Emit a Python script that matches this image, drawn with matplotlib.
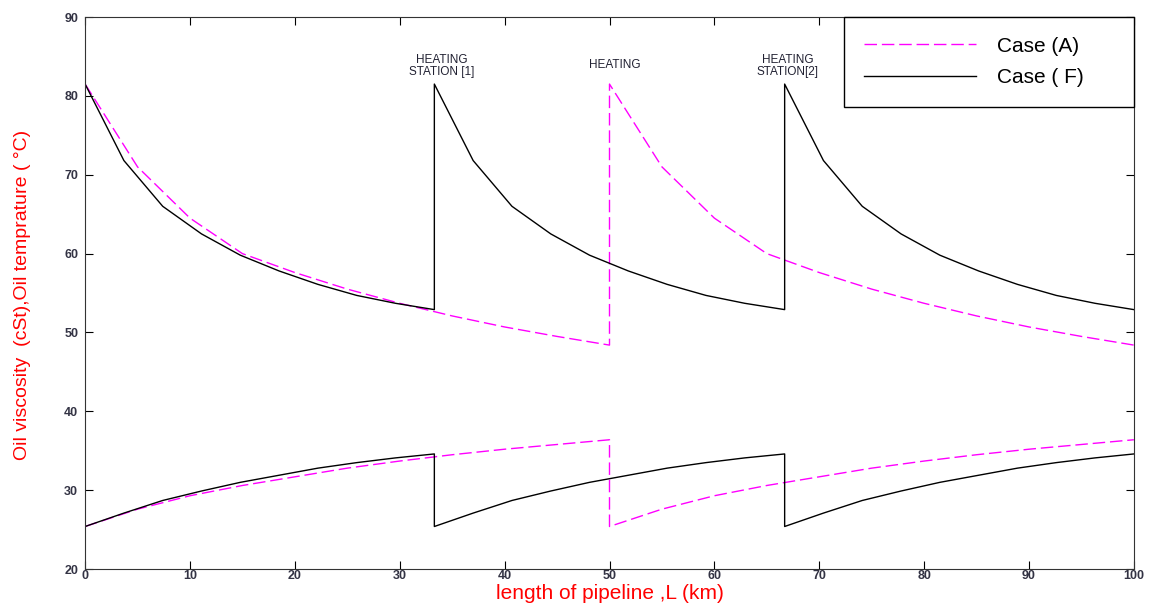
import matplotlib.pyplot as plt

# distances along the pipeline (km)
dist_A = [0, 5, 10, 15, 20, 25, 30, 35, 40, 45, 50,
          50, 55, 60, 65, 70, 75, 80, 85, 90, 95, 100]
dist_F = [0, 3.7, 7.4, 11.1, 14.8, 18.5, 22.2, 25.9, 29.6, 33.3,
          33.3, 37.0, 40.7, 44.4, 48.1, 51.8, 55.5, 59.2, 62.9, 66.7,
          66.7, 70.4, 74.1, 77.8, 81.5, 85.2, 88.9, 92.6, 96.3, 100]

# oil temperature (C)
temp_A = [81.5, 71.0, 64.5, 60.0, 57.6, 55.5, 53.7, 52.1, 50.7, 49.5, 48.4,
          81.5, 71.0, 64.5, 60.0, 57.6, 55.5, 53.7, 52.1, 50.7, 49.5, 48.4]
temp_F = [81.5, 71.8, 66.0, 62.5, 59.8, 57.8, 56.1, 54.7, 53.7, 52.9,
          81.5, 71.8, 66.0, 62.5, 59.8, 57.8, 56.1, 54.7, 53.7, 52.9,
          81.5, 71.8, 66.0, 62.5, 59.8, 57.8, 56.1, 54.7, 53.7, 52.9]

# oil viscosity (cSt)
visc_A = [25.4, 27.6, 29.3, 30.6, 31.7, 32.8, 33.7, 34.5, 35.2, 35.8, 36.4,
          25.4, 27.6, 29.3, 30.6, 31.7, 32.8, 33.7, 34.5, 35.2, 35.8, 36.4]
visc_F = [25.4, 27.1, 28.7, 29.9, 31.0, 31.9, 32.8, 33.5, 34.1, 34.6,
          25.4, 27.1, 28.7, 29.9, 31.0, 31.9, 32.8, 33.5, 34.1, 34.6,
          25.4, 27.1, 28.7, 29.9, 31.0, 31.9, 32.8, 33.5, 34.1, 34.6]

stations = ['HEATING\nSTATION [1]', 'HEATING', 'HEATING\nSTATION[2]']
station_x = [34.0, 50.5, 67.0]
station_y = [83.8, 83.9, 83.8]

plt.rcParams['font.family'] = ['Liberation Sans', 'DejaVu Sans']

fig = plt.figure(figsize=(11.5, 6.08), dpi=100)
ax = fig.add_axes([0.074, 0.064, 0.912, 0.908])

magenta = '#ff00ff'
ax.plot(dist_A, temp_A, color=magenta, lw=1.0, dashes=(9, 3.5), label='Case (A)')
ax.plot(dist_F, temp_F, color='black', lw=1.0, label='Case ( F)')
ax.plot(dist_A, visc_A, color=magenta, lw=1.0, dashes=(9, 3.5))
ax.plot(dist_F, visc_F, color='black', lw=1.0)

for s, x, y in zip(stations, station_x, station_y):
    ax.text(x, y, s, ha='center', va='center', fontsize=8.5, color='#222233',
            linespacing=1.0)

ax.set_xlim(0, 100)
ax.set_ylim(20, 90)
ax.set_xticks(range(0, 101, 10))
ax.set_yticks(range(20, 91, 10))
ax.tick_params(direction='in', length=6, top=True, right=True,
               labelsize=9, labelcolor='#333344')
ax.tick_params(axis='x', pad=1)
ax.tick_params(axis='y', pad=5)
for lab in ax.get_xticklabels() + ax.get_yticklabels():
    lab.set_fontweight('bold')
for sp in ax.spines.values():
    sp.set_color('#333333')

ax.set_xlabel('length of pipeline ,L (km)', color='red', fontsize=15)
ax.xaxis.set_label_coords(0.5, -0.0275)
ax.set_ylabel('Oil viscosity  (cSt),Oil temprature ( \u00b0C)', color='red',
              fontsize=14)
ax.yaxis.set_label_coords(-0.052, 0.496)

leg = ax.legend(loc='upper left', bbox_to_anchor=(0.7236, 0.8315, 0.2764, 0.1685),
                mode='expand', fontsize=15, handlelength=5.4,
                handletextpad=1.0, borderpad=0.94, labelspacing=0.6,
                borderaxespad=0, fancybox=False, framealpha=1,
                edgecolor='black')
leg.get_frame().set_linewidth(1.0)

fig.savefig('out.png', dpi=100)
